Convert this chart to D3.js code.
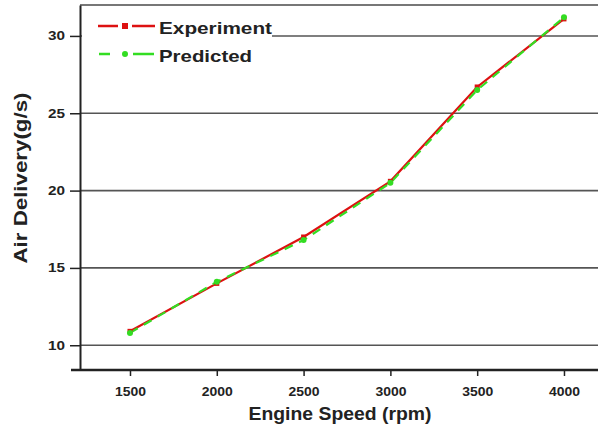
<!doctype html>
<html lang="en">
<head>
<meta charset="utf-8">
<script src="https://cdn.jsdelivr.net/npm/d3@7/dist/d3.min.js"></script>
<style>
  body { margin: 0; background: white; font-family: Arial, "Liberation Sans", sans-serif; }
</style>
</head>
<body>
<svg id="chart" width="598" height="430"></svg>
<script>
  // engine speed (rpm)
  const speeds = [1500, 2000, 2500, 3000, 3500, 4000];
  // air delivery (g/s)
  const experiment = [10.9, 14.0, 17.0, 20.6, 26.7, 31.1];
  const predicted = [10.8, 14.1, 16.8, 20.5, 26.5, 31.2];
  const xTicks = [1500, 2000, 2500, 3000, 3500, 4000];
  const yTicks = [10, 15, 20, 25, 30];

  const svg = d3.select('#chart');
  const plotLeft = 80, plotRight = 598, plotTop = 5, plotBottom = 370;

  let x = d3.scaleLinear().domain([1212, 4196]).range([plotLeft, plotRight]);
  let y = d3.scaleLinear().domain([8.4, 32]).range([plotBottom, plotTop]);

  // grid lines
  svg.append('g')
    .selectAll('line')
    .data(yTicks)
    .join('line')
    .attr('x1', plotLeft).attr('x2', plotRight)
    .attr('y1', d => y(d)).attr('y2', d => y(d))
    .attr('stroke', '#555')
    .attr('stroke-width', 1.6);

  // top border
  svg.append('line')
    .attr('x1', plotLeft).attr('x2', plotRight)
    .attr('y1', plotTop).attr('y2', plotTop)
    .attr('stroke', '#777').attr('stroke-width', 2);

  // axes
  let yAxis = svg.append('g')
    .attr('transform', `translate(${plotLeft},0)`)
    .call(d3.axisLeft(y).tickValues(yTicks).tickSize(10).tickSizeOuter(0).tickPadding(5))
  yAxis.select('.domain').attr('stroke', '#222').attr('stroke-width', 2);
  yAxis.selectAll('.tick line').attr('stroke', '#222').attr('stroke-width', 1.5);
  yAxis.selectAll('text')
    .attr('font-size', 12).attr('font-weight', 'bold').attr('fill', '#222')
    .attr('textLength', 17).attr('lengthAdjust', 'spacingAndGlyphs');

  let xAxis = svg.append('g')
    .attr('transform', `translate(0,${plotBottom})`)
    .call(d3.axisBottom(x).tickValues(xTicks).tickSize(6).tickSizeOuter(0).tickPadding(11).tickFormat(d3.format('d')))
  xAxis.select('.domain').remove();
  xAxis.selectAll('.tick line').attr('stroke', '#222').attr('stroke-width', 1.5);
  xAxis.selectAll('text')
    .attr('font-size', 12).attr('font-weight', 'bold').attr('fill', '#222')
    .attr('textLength', 31).attr('lengthAdjust', 'spacingAndGlyphs');
  svg.append('line')
    .attr('x1', plotLeft - 9).attr('x2', plotRight)
    .attr('y1', plotBottom).attr('y2', plotBottom)
    .attr('stroke', '#222').attr('stroke-width', 2.5);

  // axis titles
  svg.append('text')
    .attr('x', 340).attr('y', 420)
    .attr('text-anchor', 'middle')
    .attr('font-size', 18).attr('font-weight', 'bold').attr('fill', '#222')
    .attr('textLength', 183).attr('lengthAdjust', 'spacingAndGlyphs')
    .text('Engine Speed (rpm)');

  svg.append('text')
    .attr('transform', 'translate(27,178) rotate(-90)')
    .attr('text-anchor', 'middle')
    .attr('font-size', 19).attr('font-weight', 'bold').attr('fill', '#222')
    .attr('textLength', 171).attr('lengthAdjust', 'spacingAndGlyphs')
    .text('Air Delivery(g/s)');

  // series
  let line = d3.line()
    .x((d, i) => x(speeds[i]))
    .y(d => y(d));

  svg.append('path')
    .datum(experiment)
    .attr('d', line)
    .attr('fill', 'none')
    .attr('stroke', '#dd1111')
    .attr('stroke-width', 2.2);

  svg.append('path')
    .datum(predicted)
    .attr('d', line)
    .attr('fill', 'none')
    .attr('stroke', '#33dd22')
    .attr('stroke-width', 2.2)
    .attr('stroke-dasharray', '9,7');

  svg.append('g')
    .selectAll('rect')
    .data(experiment)
    .join('rect')
    .attr('x', (d, i) => x(speeds[i]) - 2.5)
    .attr('y', d => y(d) - 2.5)
    .attr('width', 5).attr('height', 5)
    .attr('fill', '#dd1111');

  svg.append('g')
    .selectAll('circle')
    .data(predicted)
    .join('circle')
    .attr('cx', (d, i) => x(speeds[i]))
    .attr('cy', d => y(d))
    .attr('r', 3)
    .attr('fill', '#33dd22');

  // legend, white box hides the 30 grid line behind it
  svg.append('rect')
    .attr('x', plotLeft + 2).attr('y', 12)
    .attr('width', 190).attr('height', 55)
    .attr('fill', 'white');

  let leg = svg.append('g');
  leg.append('line')
    .attr('x1', 98).attr('x2', 155).attr('y1', 26).attr('y2', 26)
    .attr('stroke', '#dd1111').attr('stroke-width', 2.5)
    .attr('stroke-dasharray', '20,14,23');
  leg.append('rect')
    .attr('x', 122).attr('y', 23).attr('width', 6).attr('height', 6)
    .attr('fill', '#dd1111');
  leg.append('text')
    .attr('x', 159).attr('y', 34)
    .attr('font-size', 17).attr('font-weight', 'bold').attr('fill', '#222')
    .attr('textLength', 113).attr('lengthAdjust', 'spacingAndGlyphs')
    .text('Experiment');

  leg.append('line')
    .attr('x1', 99).attr('x2', 154).attr('y1', 54).attr('y2', 54)
    .attr('stroke', '#33dd22').attr('stroke-width', 2.5)
    .attr('stroke-dasharray', '11,23,21');
  leg.append('circle')
    .attr('cx', 125).attr('cy', 54).attr('r', 3)
    .attr('fill', '#33dd22');
  leg.append('text')
    .attr('x', 159).attr('y', 62)
    .attr('font-size', 17).attr('font-weight', 'bold').attr('fill', '#222')
    .attr('textLength', 93).attr('lengthAdjust', 'spacingAndGlyphs')
    .text('Predicted');
</script>
</body>
</html>
